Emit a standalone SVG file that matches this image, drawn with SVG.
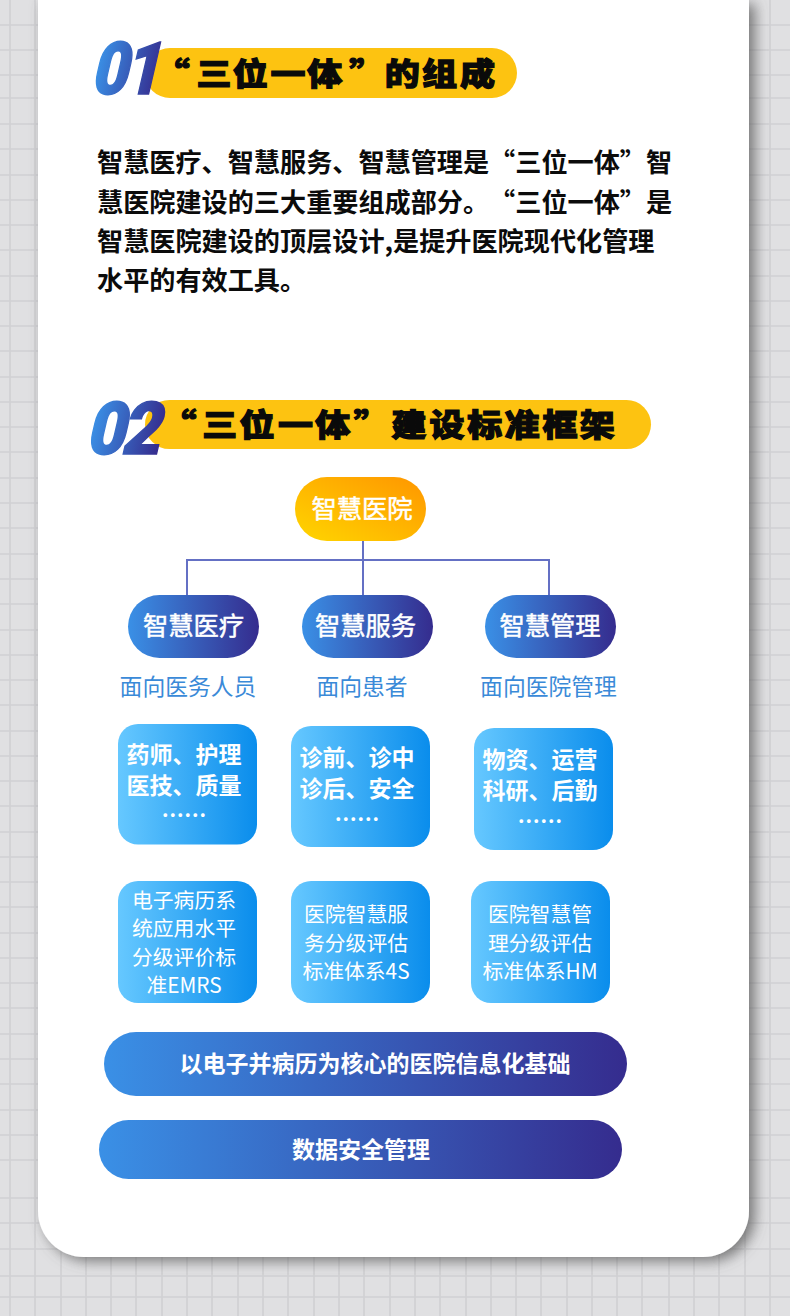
<svg xmlns="http://www.w3.org/2000/svg" width="790" height="1316" viewBox="0 0 790 1316">
<style>
text{font-family:"Noto Sans CJK SC","Noto Sans",sans-serif;text-anchor:middle;text-spacing-trim:space-all}
.body{font-size:26.15px;font-weight:700;fill:#0b0b0b;text-anchor:start}
.ttl{font-size:31px;font-weight:900;fill:#0a0a0a;stroke:#0a0a0a;stroke-width:1.2px;text-anchor:start}
.num{font-family:Roboto,"Liberation Sans",sans-serif;font-size:73px;font-weight:900;fill:url(#blue);stroke:url(#blue);stroke-width:1.5px;text-anchor:start;letter-spacing:-4px}
.pill{font-size:25.3px;font-weight:400;fill:#fff;stroke:#fff;stroke-width:.5px}
.sub{font-size:22.8px;font-weight:400;fill:#3a8ad8}
.b1{font-size:23px;font-weight:700;fill:#fff}
.dots{font-size:22.5px;font-weight:700;fill:#fff}
.b2{font-size:20.8px;font-weight:400;fill:#fff}
.bar{font-size:23px;font-weight:700;fill:#fff}
.grid{stroke:#d0d0d3;stroke-width:1.6;fill:none}
.conn{stroke:#6470c4;stroke-width:2;fill:none}
</style>
<defs>
<linearGradient id="blue" x1="0" y1="0" x2="1" y2="0"><stop offset="0" stop-color="#3a90e6"/><stop offset="1" stop-color="#352c8e"/></linearGradient>
<linearGradient id="sky" x1="0" y1="0" x2="1" y2="0"><stop offset="0" stop-color="#66c8ff"/><stop offset="1" stop-color="#0a8dec"/></linearGradient>
<linearGradient id="gold" x1="0" y1="1" x2="1" y2="0"><stop offset="0.1" stop-color="#ffcf00"/><stop offset="0.9" stop-color="#ff9c00"/></linearGradient>
<filter id="sh" x="-10%" y="-10%" width="120%" height="120%"><feDropShadow dx="6" dy="4" stdDeviation="7" flood-color="#555" flood-opacity="0.75"/></filter>
</defs>
<rect width="790" height="1316" fill="#e0e0e2"/>
<path class="grid" d="M10 0V1316M35 0V1316M61 0V1316M86 0V1316M111 0V1316M136 0V1316M162 0V1316M187 0V1316M617 0V1316M642 0V1316M669 0V1316M694 0V1316M719 0V1316M745 0V1316M770 0V1316M212 1257V1316M238 1257V1316M263 1257V1316M288 1257V1316M314 1257V1316M339 1257V1316M364 1257V1316M390 1257V1316M415 1257V1316M440 1257V1316M466 1257V1316M491 1257V1316M516 1257V1316M541 1257V1316M567 1257V1316M592 1257V1316M0 25H790M0 50H790M0 75H790M0 98H790M0 124H790M0 149H790M0 175H790M0 200H790M0 225H790M0 250H790M0 276H790M0 301H790M0 326H790M0 351H790M0 377H790M0 402H790M0 427H790M0 452H790M0 478H790M0 503H790M0 528H790M0 554H790M0 579H790M0 604H790M0 630H790M0 655H790M0 680H790M0 705H790M0 731H790M0 756H790M0 781H790M0 806H790M0 832H790M0 857H790M0 882H790M0 907H790M0 933H790M0 958H790M0 983H790M0 1008H790M0 1034H790M0 1059H790M0 1084H790M0 1110H790M0 1135H790M0 1160H790M0 1198H790M0 1223H790M0 1249H790M0 1276H790M0 1297H790"/>
<path id="card" d="M38 0H749V1211A46 46 0 0 1 703 1257H84A46 46 0 0 1 38 1211Z" fill="#fff" filter="url(#sh)"/>

<g id="heading-1">
<rect x="145" y="48" width="372" height="50" rx="25" fill="#fdc311"/>
<text class="num" transform="translate(90 94) skewX(-13) scale(0.86 1)">01</text>
<text class="ttl" y="85.500" x="137 174 206 239.500 272 309 340.500 373.500 407" transform="scale(1.13 1)">“三位一体”的组成</text>
</g>
<g id="intro">
<text class="body" x="97" y="172">智慧医疗、智慧服务、智慧管理是“三位一体”智</text>
<text class="body" x="97" y="212">慧医院建设的三大重要组成部分。“三位一体”是</text>
<text class="body" x="97" y="251">智慧医院建设的顶层设计,是提升医院现代化管理</text>
<text class="body" x="97" y="290">水平的有效工具。</text>
</g>
<g id="heading-2">
<rect x="145" y="400" width="506" height="49" rx="24.500" fill="#fdc311"/>
<text class="num" transform="translate(85 454) skewX(-13) scale(0.92 1)">02</text>
<text class="ttl" y="436" x="143 179 212 246 279 313 346.500 380 413.500 446.500 480 513" transform="scale(1.13 1)">“三位一体”建设标准框架</text>
</g>

<g id="connectors">
<path class="conn" d="M363 541V595M187 595V560H549V595"/>
</g>

<g id="root"><rect x="295" y="477" width="131" height="64" rx="32" fill="url(#gold)"/><text class="pill" x="362" y="518">智慧医院</text></g>
<g id="n-yiliao"><rect x="128" y="595" width="131" height="63" rx="31.500" fill="url(#blue)"/><text class="pill" x="193.500" y="635">智慧医疗</text></g>
<g id="n-fuwu"><rect x="302" y="595" width="131" height="63" rx="31.500" fill="url(#blue)"/><text class="pill" x="365.500" y="635">智慧服务</text></g>
<g id="n-guanli"><rect x="485" y="595" width="131" height="63" rx="31.500" fill="url(#blue)"/><text class="pill" x="550" y="635">智慧管理</text></g>

<g id="label-1"><text class="sub" x="188" y="695">面向医务人员</text></g>
<g id="label-2"><text class="sub" x="362" y="695">面向患者</text></g>
<g id="label-3"><text class="sub" x="548.500" y="695">面向医院管理</text></g>

<g id="users-1"><rect x="118" y="724" width="139" height="120.500" rx="20" fill="url(#sky)"/><text class="b1" x="184" y="763">药师、护理</text><text class="b1" x="184" y="794">医技、质量</text><text class="dots" x="184" y="824">……</text></g>
<g id="users-2"><rect x="291" y="726" width="139" height="121" rx="20" fill="url(#sky)"/><text class="b1" x="357" y="765.500">诊前、诊中</text><text class="b1" x="357" y="796.500">诊后、安全</text><text class="dots" x="357" y="827.500">……</text></g>
<g id="users-3"><rect x="474" y="728" width="139" height="122" rx="20" fill="url(#sky)"/><text class="b1" x="540" y="768">物资、运营</text><text class="b1" x="540" y="799">科研、后勤</text><text class="dots" x="540" y="829.500">……</text></g>

<g id="std-1"><rect x="118" y="881" width="139" height="122" rx="20" fill="url(#sky)"/><text class="b2" x="184" y="908">电子病历系</text><text class="b2" x="184" y="936">统应用水平</text><text class="b2" x="184" y="965">分级评价标</text><text class="b2" x="184" y="993">准EMRS</text></g>
<g id="std-2"><rect x="291" y="881" width="139" height="122" rx="20" fill="url(#sky)"/><text class="b2" x="356" y="922">医院智慧服</text><text class="b2" x="356" y="951">务分级评估</text><text class="b2" x="356" y="979">标准体系4S</text></g>
<g id="std-3"><rect x="471" y="881" width="139" height="122" rx="20" fill="url(#sky)"/><text class="b2" x="540" y="922">医院智慧管</text><text class="b2" x="540" y="951">理分级评估</text><text class="b2" x="540" y="979">标准体系HM</text></g>

<g id="base-1"><rect x="104" y="1032" width="523" height="64" rx="32" fill="url(#blue)"/><text class="bar" x="375" y="1072">以电子并病历为核心的医院信息化基础</text></g>
<g id="base-2"><rect x="99" y="1120" width="523" height="59" rx="29.500" fill="url(#blue)"/><text class="bar" x="361" y="1158">数据安全管理</text></g>
</svg>
